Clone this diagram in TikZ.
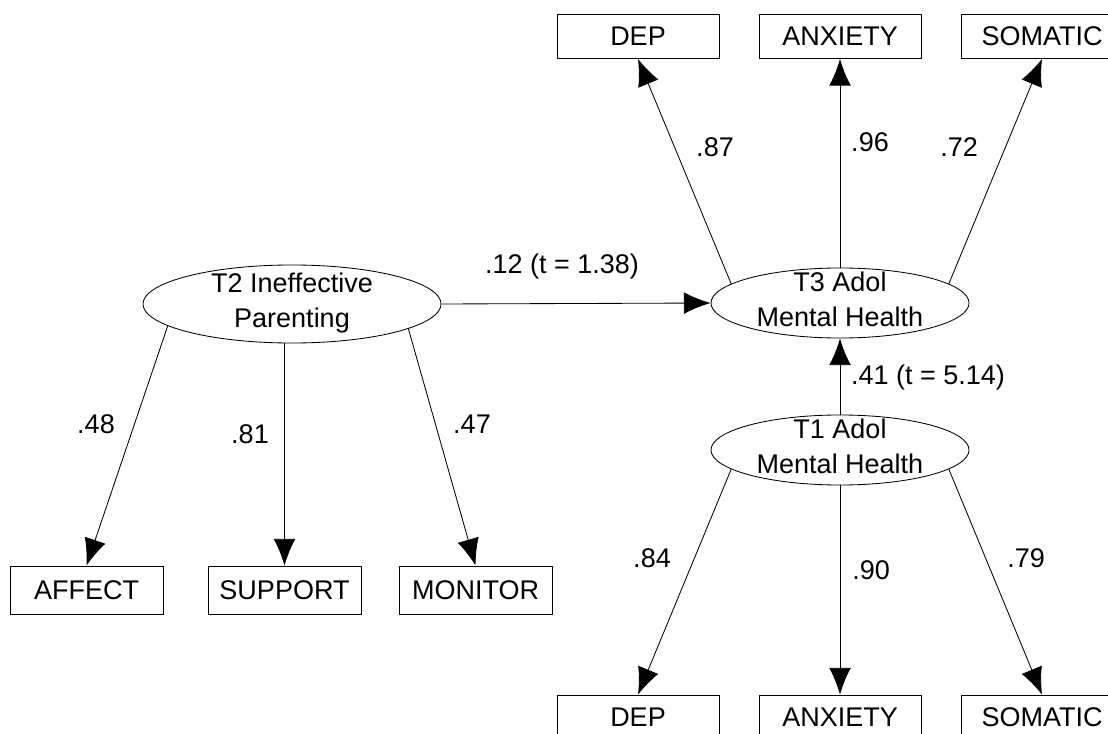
\documentclass[tikz,border=0pt]{standalone}
\usepackage{fontspec}
\setmainfont{Liberation Sans}
\usetikzlibrary{shapes.geometric,arrows.meta}

\begin{document}
\begin{tikzpicture}[x=0.025cm,y=-0.025cm,>={Latex[length=19pt,width=15.5pt]},line width=0.6pt,
                every node/.style={font=\fontsize{19.2}{24.9}\selectfont},
                obs/.style={draw,rectangle,inner sep=0pt,minimum width=4.05cm,minimum height=1.1cm},
                obsl/.style={obs,minimum width=3.825cm,minimum height=1.2cm},
                lat/.style={draw,ellipse,align=center,text depth=6pt,inner xsep=0pt,inner ysep=-6pt,minimum width=6.45cm,minimum height=1.75cm}]
  \useasboundingbox (0,0) rectangle (1108,734);
  \clip (0,0) rectangle (1108,734);
  % indicators of T3
  \node[obs]  (dep3) at (638,36.5)  {DEP};
  \node[obs]  (anx3) at (840,36.5)  {ANXIETY};
  \node[obs]  (som3) at (1042,36.5) {SOMATIC};
  % latent factors
  \node[lat]  (t3)   at (840,303)   {T3 Adol\\Mental Health};
  \node[lat,minimum width=7.45cm,minimum height=1.95cm] (t2) at (292,304) {T2 Ineffective\\Parenting};
  \node[lat]  (t1)   at (840,450)   {T1 Adol\\Mental Health};
  % indicators of T2
  \node[obsl] (aff)  at (86.5,590)  {AFFECT};
  \node[obsl] (sup)  at (284.5,590) {SUPPORT};
  \node[obsl] (mon)  at (475.5,590) {MONITOR};
  % indicators of T1
  \node[obs]  (dep1) at (638,717)   {DEP};
  \node[obs]  (anx1) at (840,717)   {ANXIETY};
  \node[obs]  (som1) at (1042,717)  {SOMATIC};
  % loadings and paths
  \node (l87) at (715,147)  {.87};
  \node (l96) at (870,142)  {.96};
  \node (l72) at (959,147)  {.72};
  \node (l12) at (562,267)  {.12 (t = 1.38)};
  \node (l41) at (928,378)  {.41 (t = 5.14)};
  \node (l48) at (96,424)   {.48};
  \node (l81) at (250,434)  {.81};
  \node (l47) at (472,424)  {.47};
  \node (l84) at (652,558)  {.84};
  \node (l90) at (871,570)  {.90};
  \node (l79) at (1026,558) {.79};
  \draw[->] (t3.170) -- (dep3.south);
  \draw[->] (t3.north) -- (anx3.south);
  \draw[->] (t3.10) -- (som3.south);
  \draw[->] (t2.east) -- (t3.west);
  \draw[->] (t1.north) -- (t3.south);
  \draw[->] (t2.190) -- (aff.north);
  \draw[->] (sup.north |- t2.south) -- (sup.north);
  \draw[->] (t2.348) -- (mon.north);
  \draw[->] (t1.190) -- (dep1.north);
  \draw[->] (t1.south) -- (anx1.north);
  \draw[->] (t1.350) -- (som1.north);
\end{tikzpicture}
\end{document}
